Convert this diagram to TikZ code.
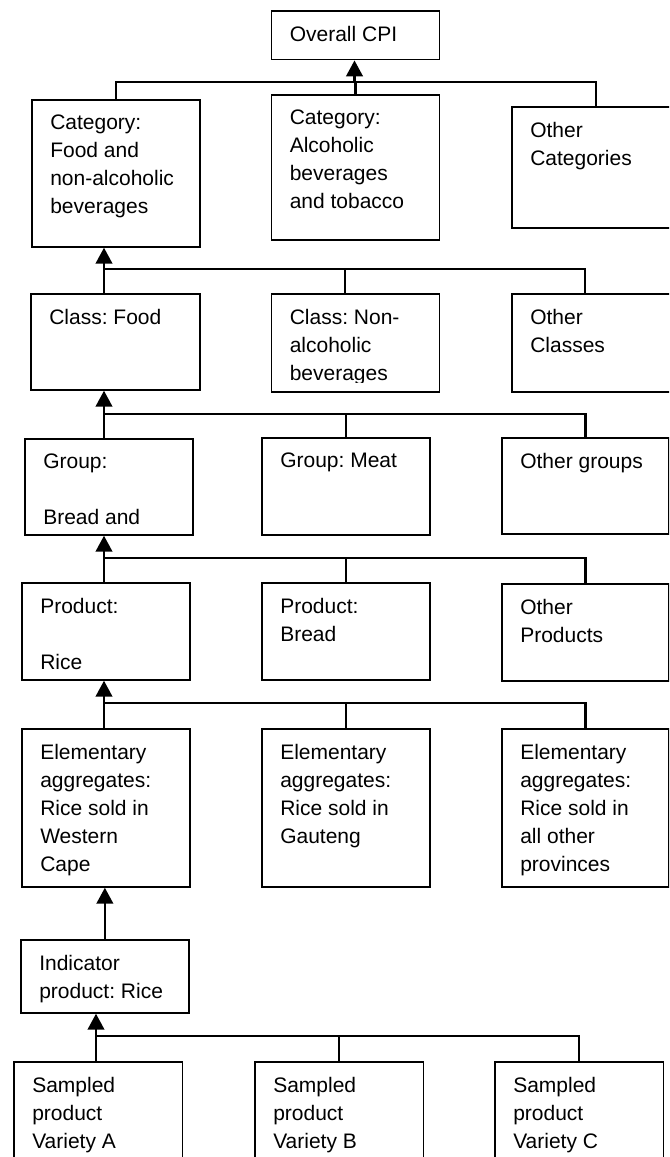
\documentclass[tikz,border=0pt]{standalone}
\usepackage{fontspec}
\setmainfont{Liberation Sans}
\usetikzlibrary{arrows.meta,positioning}
\frenchspacing

\begin{document}
\begin{tikzpicture}[x=0.75pt, y=-0.75pt,
    box/.style={draw, line width=1.3pt, inner sep=0pt, anchor=north west},
    txt/.style={inner sep=0pt, align=left, font=\fontsize{15.75pt}{21pt}\selectfont},
    intext/.style={txt, below right=12pt and 14.25pt of #1},
    conn/.style={line width=1.7pt, line join=miter},
    arr/.style={line width=1.7pt, -{Triangle[width=12.5pt,length=12pt]}}]

        % Page (cut at right and bottom like the original)
        \clip (0,0) rectangle (669,1157);

        % Top box
        \node[box, minimum width=168*0.75pt, minimum height=48.7*0.75pt] (cpi) at (270.5,10) {};
        \node[intext=cpi.north west] (cpi-t) {Overall CPI};

        % Categories
        \node[box, minimum width=126pt, minimum height=147*0.75pt] (cat1) at (31,99) {};
        \node[box, minimum width=126pt, minimum height=145*0.75pt] (cat2) at (270.5,94) {};
        \node[box, minimum width=126pt, minimum height=121*0.75pt] (cat3) at (511,106) {};
        \node[intext=cat1.north west] (cat1-t) {Category:\\Food and\\non-alcoholic\\beverages};
        \node[intext=cat2.north west] (cat2-t) {Category:\\Alcoholic\\beverages\\and tobacco};
        \node[intext=cat3.north west] (cat3-t) {Other\\Categories};

        % Classes
        \node[box, minimum width=169*0.75pt, minimum height=96*0.75pt] (cls1) at (30,293) {};
        \node[box, minimum width=126pt, minimum height=98*0.75pt] (cls2) at (270.5,293) {};
        \node[box, minimum width=126pt, minimum height=98*0.75pt] (cls3) at (511,293) {};
        \node[intext=cls1.north west] (cls1-t) {Class: Food};
        \begin{scope}
            \clip (cls2.north west) rectangle ([yshift=7.5pt]cls2.south east);
            \node[intext=cls2.north west] (cls2-t) {Class: Non-\\alcoholic\\beverages};
        \end{scope}
        \node[intext=cls3.north west] (cls3-t) {Other\\Classes};

        % Groups
        \node[box, minimum width=126pt, minimum height=96*0.75pt] (grp1) at (24,438) {};
        \node[box, minimum width=126pt, minimum height=97*0.75pt] (grp2) at (261,437) {};
        \node[box, minimum width=167*0.75pt, minimum height=96*0.75pt] (grp3) at (501,437) {};
        \node[intext=grp1.north west] (grp1-t) {Group:\\[21pt]Bread and};
        \node[intext=grp2.north west] (grp2-t) {Group: Meat};
        \node[intext=grp3.north west] (grp3-t) {Other groups};

        % Products
        \node[box, minimum width=126pt, minimum height=97*0.75pt] (prd1) at (21,582) {};
        \node[box, minimum width=126pt, minimum height=97*0.75pt] (prd2) at (261,582) {};
        \node[box, minimum width=167*0.75pt, minimum height=97*0.75pt] (prd3) at (501,583) {};
        \node[intext=prd1.north west] (prd1-t) {Product:\\[21pt]Rice};
        \node[intext=prd2.north west] (prd2-t) {Product:\\Bread};
        \node[intext=prd3.north west] (prd3-t) {Other\\Products};

        % Elementary aggregates
        \node[box, minimum width=126pt, minimum height=158*0.75pt] (ea1) at (21,728) {};
        \node[box, minimum width=126pt, minimum height=158*0.75pt] (ea2) at (261,728) {};
        \node[box, minimum width=167*0.75pt, minimum height=158*0.75pt] (ea3) at (501,728) {};
        \node[intext=ea1.north west] (ea1-t) {Elementary\\aggregates:\\Rice sold in\\Western\\Cape};
        \node[intext=ea2.north west] (ea2-t) {Elementary\\aggregates:\\Rice sold in\\Gauteng};
        \node[intext=ea3.north west] (ea3-t) {Elementary\\aggregates:\\Rice sold in\\all other\\provinces};

        % Indicator product
        \node[box, minimum width=126pt, minimum height=73*0.75pt] (ind) at (20,939) {};
        \node[intext=ind.north west] (ind-t) {Indicator\\product: Rice};

        % Sampled products
        \node[box, minimum width=168.5*0.75pt, minimum height=130*0.75pt] (smp1) at (13,1061) {};
        \node[box, minimum width=168.5*0.75pt, minimum height=130*0.75pt] (smp2) at (254,1061) {};
        \node[box, minimum width=168.5*0.75pt, minimum height=130*0.75pt] (smp3) at (494,1061) {};
        \node[intext=smp1.north west] (smp1-t) {Sampled\\product\\Variety A};
        \node[intext=smp2.north west] (smp2-t) {Sampled\\product\\Variety B};
        \node[intext=smp3.north west] (smp3-t) {Sampled\\product\\Variety C};

        % Categories -> overall CPI
        \coordinate (jA) at (354.5,81.7);
        \draw[conn] (cat1.north) |- (jA) -| (cat3.north);
        \draw[conn] (cat2.north) -- (cat2.north |- jA);
        \draw[arr] (jA) -- (cpi.south -| jA);

        % Classes -> food category
        \coordinate (jB) at (104,269);
        \draw[conn] (cls1.north -| jB) -- (jB) -| ([xshift=-7.9pt]cls3.north);
        \draw[conn] ([xshift=-7.9pt]cls2.north) -- ([xshift=-7.9pt]cls2.north |- jB);
        \draw[arr] (jB) -- (cat1.south -| jB);

        % Groups -> food class
        \coordinate (jC) at (104,414);
        \draw[conn] (grp1.north -| jC) -- (jC) -| (grp3.north);
        \draw[conn] (grp2.north) -- (grp2.north |- jC);
        \draw[arr] (jC) -- (cls1.south -| jC);

        % Products -> bread group
        \coordinate (jD) at (104,558);
        \draw[conn] (prd1.north -| jD) -- (jD) -| (prd3.north);
        \draw[conn] (prd2.north) -- (prd2.north |- jD);
        \draw[arr] (jD) -- (grp1.south -| jD);

        % Elementary aggregates -> rice
        \coordinate (jE) at (104,703);
        \draw[conn] (ea1.north -| jE) -- (jE) -| (ea3.north);
        \draw[conn] (ea2.north) -- (ea2.north |- jE);
        \draw[arr] (jE) -- (prd1.south -| jE);

        % Indicator -> Western Cape
        \draw[arr] (ind.north) -- (ind.north |- ea1.south);

        % Sampled products -> indicator
        \coordinate (jG) at (96,1036);
        \draw[conn] (smp1.north -| jG) -- (jG) -| (smp3.north);
        \draw[conn] (smp2.north) -- (smp2.north |- jG);
        \draw[arr] (jG) -- (ind.south -| jG);
    \end{tikzpicture}
\end{document}
